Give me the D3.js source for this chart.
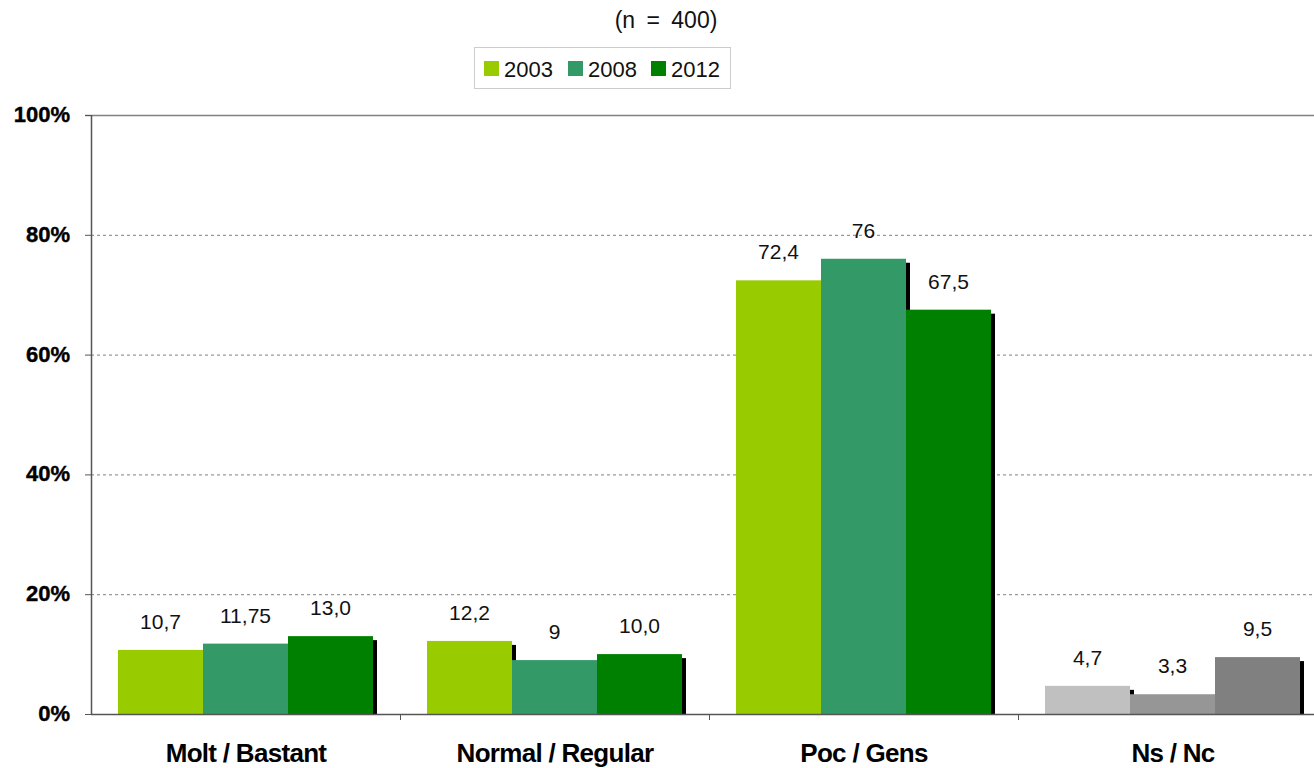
<!DOCTYPE html>
<html>
<head>
<meta charset="utf-8">
<script src="https://cdnjs.cloudflare.com/ajax/libs/d3/7.8.5/d3.min.js"></script>
<style>
  body { margin: 0; background: #fff; }
  text { font-family: "Liberation Sans", Arial, sans-serif; }
</style>
</head>
<body>
<div id="chart"></div>
<script>
var categories = ["Molt / Bastant", "Normal / Regular", "Poc / Gens", "Ns / Nc"];
var years = ["2003", "2008", "2012"];
var values2003 = [10.7, 12.2, 72.4, 4.7];
var values2008 = [11.75, 9, 76, 3.3];
var values2012 = [13.0, 10.0, 67.5, 9.5];
var valueLabels2003 = ["10,7", "12,2", "72,4", "4,7"];
var valueLabels2008 = ["11,75", "9", "76", "3,3"];
var valueLabels2012 = ["13,0", "10,0", "67,5", "9,5"];
var yTicks = [0, 20, 40, 60, 80, 100];

var colors = ["#99CC00", "#339966", "#008000"];
var grayColors = ["#C0C0C0", "#969696", "#808080"];

var svgWidth = 1314;
var svgHeight = 768;
var margin = { top: 115, left: 91, bottom: 54 };
var plotBottom = svgHeight - margin.bottom;

var svg = d3.select("#chart")
  .append("svg")
  .attr("width", svgWidth)
  .attr("height", svgHeight);

var series = [values2003, values2008, values2012];
var seriesLabels = [valueLabels2003, valueLabels2008, valueLabels2012];

var data = [];
categories.forEach((c, i) => {
  years.forEach((y, j) => {
    data.push({
      cat: c,
      year: y,
      value: series[j][i],
      label: seriesLabels[j][i],
      color: i === 3 ? grayColors[j] : colors[j]
    });
  });
});

var x0 = d3.scaleBand()
  .domain(categories)
  .range([margin.left, margin.left + 4 * 309]);

var x1 = d3.scaleBand()
  .domain(years)
  .range([27, 282]);

var y = d3.scaleLinear()
  .domain([0, 100])
  .range([plotBottom, margin.top]);

// gridlines
svg.selectAll(".grid")
  .data(yTicks.filter(t => t > 0 && t < 100))
  .enter()
  .append("line")
  .attr("x1", margin.left)
  .attr("x2", svgWidth)
  .attr("y1", d => y(d) + 0.5)
  .attr("y2", d => y(d) + 0.5)
  .attr("stroke", "#808080")
  .attr("stroke-dasharray", "3,3");

// top border line
svg.append("line")
  .attr("x1", margin.left - 6)
  .attr("x2", svgWidth)
  .attr("y1", y(100) + 0.5)
  .attr("y2", y(100) + 0.5)
  .attr("stroke", "#808080")
  .attr("stroke-width", 1.5);

// shadows
svg.selectAll(".shadow")
  .data(data)
  .enter()
  .append("rect")
  .attr("x", d => x0(d.cat) + x1(d.year) + 4)
  .attr("y", d => y(d.value) + 4)
  .attr("width", x1.bandwidth())
  .attr("height", d => plotBottom - y(d.value) - 4)
  .attr("fill", "#000");

// bars
svg.selectAll(".bar")
  .data(data)
  .enter()
  .append("rect")
  .attr("x", d => x0(d.cat) + x1(d.year))
  .attr("y", d => y(d.value))
  .attr("width", x1.bandwidth())
  .attr("height", d => plotBottom - y(d.value))
  .attr("fill", d => d.color);

// value labels
svg.selectAll(".vlabel")
  .data(data)
  .enter()
  .append("text")
  .attr("x", d => x0(d.cat) + x1(d.year) + x1.bandwidth() / 2)
  .attr("y", d => y(d.value) - 21)
  .attr("text-anchor", "middle")
  .attr("font-size", "21px")
  .attr("fill", "#111")
  .text(d => d.label);

// y axis
svg.append("line")
  .attr("x1", margin.left + 0.5)
  .attr("x2", margin.left + 0.5)
  .attr("y1", margin.top)
  .attr("y2", plotBottom)
  .attr("stroke", "#555")
  .attr("stroke-width", 1.5);

svg.selectAll(".ytick")
  .data(yTicks)
  .enter()
  .append("line")
  .attr("x1", margin.left - 6)
  .attr("x2", margin.left)
  .attr("y1", d => y(d) + 0.5)
  .attr("y2", d => y(d) + 0.5)
  .attr("stroke", "#555");

svg.selectAll(".ylabel")
  .data(yTicks)
  .enter()
  .append("text")
  .attr("x", 70)
  .attr("y", d => y(d) + 7)
  .attr("text-anchor", "end")
  .attr("font-size", "22px")
  .attr("font-weight", "bold")
  .attr("stroke", "#000")
  .attr("stroke-width", 0.4)
  .text(d => d + "%");

// x axis
svg.append("line")
  .attr("x1", margin.left)
  .attr("x2", svgWidth)
  .attr("y1", plotBottom + 0.5)
  .attr("y2", plotBottom + 0.5)
  .attr("stroke", "#555")
  .attr("stroke-width", 1.5);

svg.selectAll(".xtick")
  .data(categories.slice(1))
  .enter()
  .append("line")
  .attr("x1", d => x0(d) + 0.5)
  .attr("x2", d => x0(d) + 0.5)
  .attr("y1", plotBottom)
  .attr("y2", plotBottom + 6)
  .attr("stroke", "#555");

svg.selectAll(".xlabel")
  .data(categories)
  .enter()
  .append("text")
  .attr("x", d => x0(d) + 155)
  .attr("y", 762)
  .attr("text-anchor", "middle")
  .attr("font-size", "26px")
  .attr("font-weight", "bold")
  .attr("letter-spacing", "-0.7px")
  .text(d => d);

// title
svg.append("text")
  .attr("x", 666)
  .attr("y", 28)
  .attr("text-anchor", "middle")
  .attr("font-size", "23px")
  .attr("word-spacing", "5px")
  .attr("fill", "#111")
  .text("(n = 400)");

// legend
var legend = svg.append("g");
legend.append("rect")
  .attr("x", 474.5)
  .attr("y", 47.5)
  .attr("width", 256)
  .attr("height", 41)
  .attr("fill", "#fff")
  .attr("stroke", "#ccc");

var legendX = [484, 568, 651];
years.forEach((yr, i) => {
  legend.append("rect")
    .attr("x", legendX[i])
    .attr("y", 61)
    .attr("width", 15)
    .attr("height", 15)
    .attr("fill", colors[i]);
  legend.append("text")
    .attr("x", legendX[i] + 20)
    .attr("y", 77)
    .attr("font-size", "22px")
    .attr("fill", "#111")
    .text(yr);
});
</script>
</body>
</html>
